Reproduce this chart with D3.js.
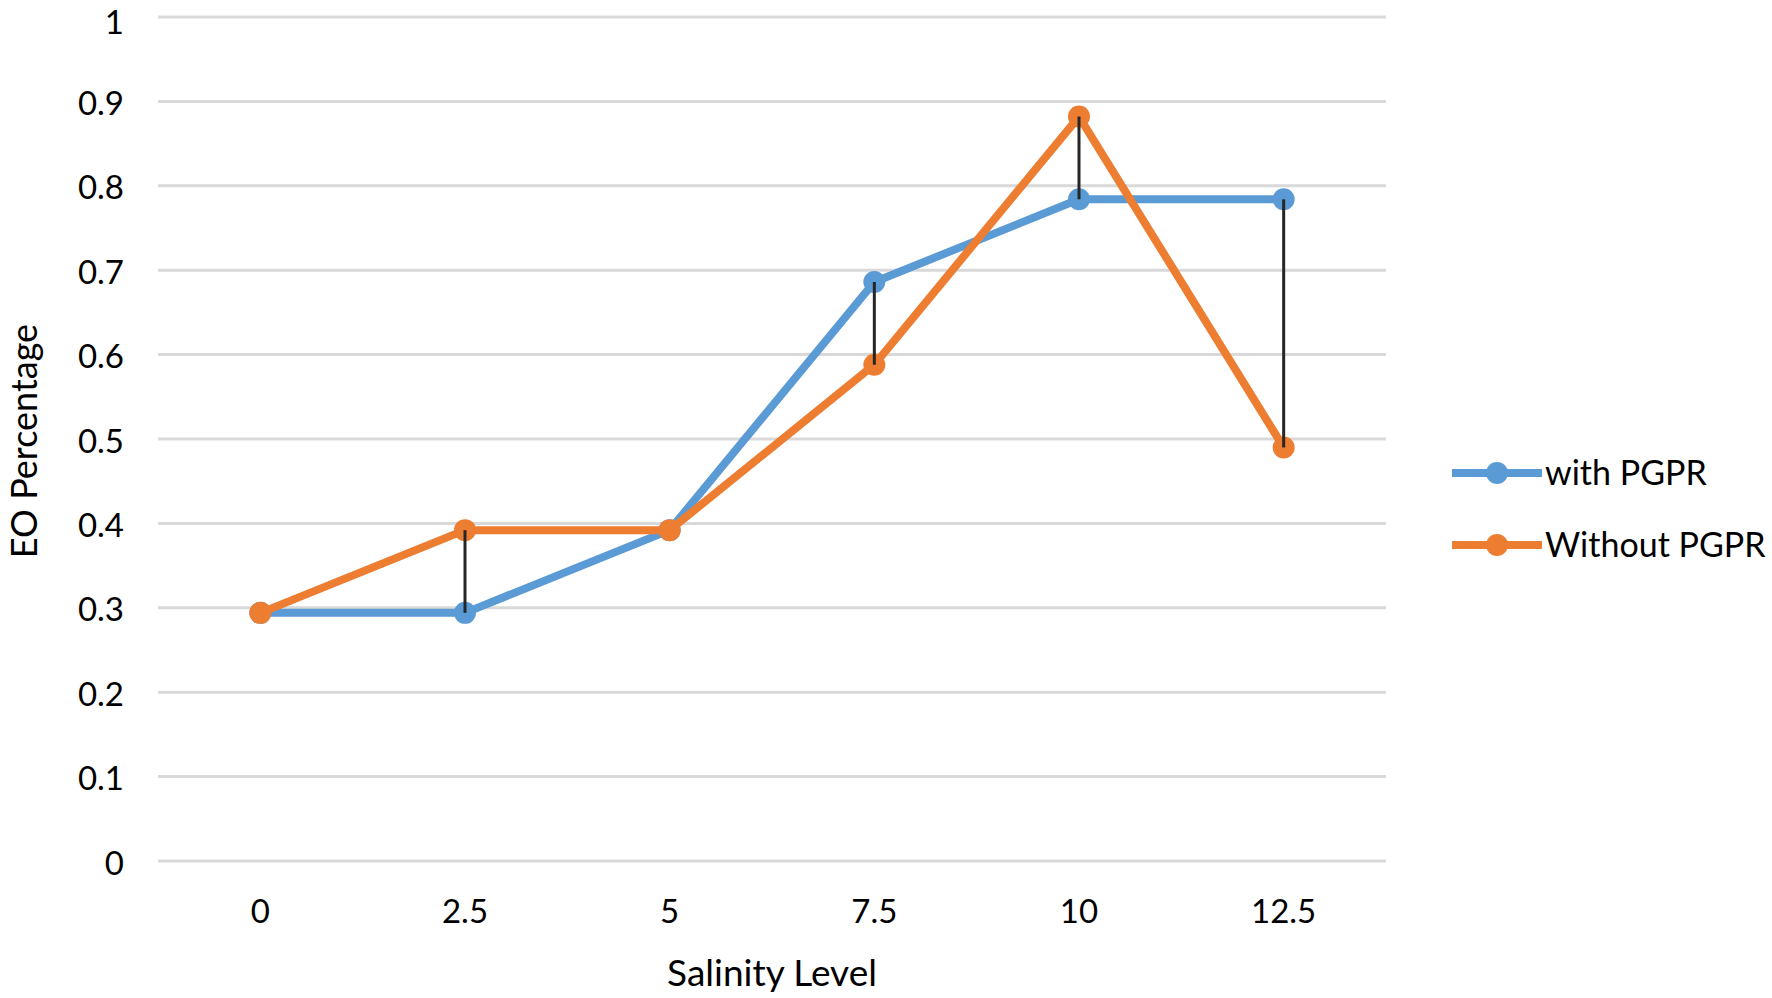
<!DOCTYPE html>
<html>
<head>
<meta charset="utf-8">
<script src="https://cdn.jsdelivr.net/npm/d3@7"></script>
<style>
  body { margin: 0; background: #fff; }
  text { font-family: Lato, "Open Sans", sans-serif; fill: #000; }
</style>
</head>
<body>
<svg id="chart" width="1772" height="998"></svg>
<script>
// Data
const salinity = ["0", "2.5", "5", "7.5", "10", "12.5"];
const withPGPR = [0.294, 0.294, 0.392, 0.686, 0.784, 0.784];
const withoutPGPR = [0.294, 0.392, 0.392, 0.588, 0.882, 0.49];
const yTicks = [0, 0.1, 0.2, 0.3, 0.4, 0.5, 0.6, 0.7, 0.8, 0.9, 1];

const series = [
    { name: "with PGPR", values: withPGPR, color: "#5B9BD5" },
    { name: "Without PGPR", values: withoutPGPR, color: "#ED7D31" }
];

const svg = d3.select("#chart");
const plot = { left: 158, right: 1386, top: 17, bottom: 861 };

const x = d3.scaleBand()
    .domain(salinity)
    .range([plot.left, plot.right]);

const y = d3.scaleLinear()
    .domain([0, 1])
    .range([plot.bottom, plot.top]);

const cx = d => x(d) + x.bandwidth() / 2;

// Gridlines
svg.append("g")
    .selectAll("line")
    .data(yTicks)
    .enter().append("line")
    .attr("x1", plot.left)
    .attr("x2", plot.right)
    .attr("y1", d => y(d))
    .attr("y2", d => y(d))
    .attr("stroke", "#D9D9D9")
    .attr("stroke-width", 3);

// Y tick labels (top one nudged so it stays inside the page)
svg.append("g")
    .selectAll("text")
    .data(yTicks)
    .enter().append("text")
    .attr("x", 124)
    .attr("y", d => Math.max(y(d) + 2, 22))
    .attr("dy", "0.35em")
    .attr("text-anchor", "end")
    .attr("font-size", 33)
    .text(d => d3.format("")(d));

// X tick labels
svg.append("g")
    .selectAll("text")
    .data(salinity)
    .enter().append("text")
    .attr("x", d => cx(d))
    .attr("y", 911)
    .attr("dy", "0.35em")
    .attr("text-anchor", "middle")
    .attr("font-size", 33)
    .text(d => d);

// Axis titles
svg.append("text")
    .attr("x", 772)
    .attr("y", 973)
    .attr("dy", "0.35em")
    .attr("text-anchor", "middle")
    .attr("font-size", 37)
    .text("Salinity Level");

svg.append("text")
    .attr("transform", "translate(24,441) rotate(-90)")
    .attr("dy", "0.35em")
    .attr("text-anchor", "middle")
    .attr("font-size", 36)
    .text("EO Percentage");

// Lines
const line = d3.line()
    .x((d, i) => cx(salinity[i]))
    .y(d => y(d));

series.forEach(s => {
    svg.append("path")
        .datum(s.values)
        .attr("fill", "none")
        .attr("stroke", s.color)
        .attr("stroke-width", 8)
        .attr("stroke-linejoin", "round")
        .attr("d", line);

    svg.append("g")
        .selectAll("circle")
        .data(s.values)
        .enter().append("circle")
        .attr("cx", (d, i) => cx(salinity[i]))
        .attr("cy", d => y(d))
        .attr("r", 11)
        .attr("fill", s.color);
});

// High-low lines between the two series
svg.append("g")
    .selectAll("line")
    .data(salinity)
    .enter().append("line")
    .attr("x1", d => cx(d))
    .attr("x2", d => cx(d))
    .attr("y1", (d, i) => y(withPGPR[i]))
    .attr("y2", (d, i) => y(withoutPGPR[i]))
    .attr("stroke", "#262626")
    .attr("stroke-width", 3);

// Legend
const legend = svg.append("g")
    .selectAll("g")
    .data(series)
    .enter().append("g")
    .attr("transform", (d, i) => `translate(1452,${473 + i * 72})`);

legend.append("line")
    .attr("x1", 0)
    .attr("x2", 90)
    .attr("stroke", d => d.color)
    .attr("stroke-width", 8);

legend.append("circle")
    .attr("cx", 45)
    .attr("r", 11)
    .attr("fill", d => d.color);

legend.append("text")
    .attr("x", 93)
    .attr("dy", "0.35em")
    .attr("font-size", 34)
    .text(d => d.name);
</script>
</body>
</html>
